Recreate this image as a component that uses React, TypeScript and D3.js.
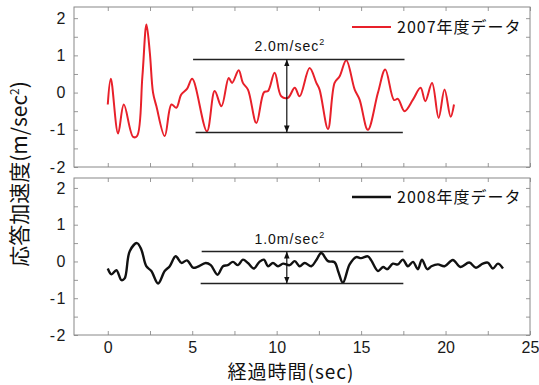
import React, { useEffect, useRef } from "react";
import * as d3 from "d3";

// 2007 response acceleration (red), time in sec / value in m/sec^2
const t2007 = [0, 0.18, 0.61, 0.95, 1.5, 1.73, 2.05, 2.29, 2.49, 2.68, 2.88, 3.37, 3.77, 4.06, 4.35, 4.69, 5.0, 5.87, 6.33, 6.73, 7.16, 7.36, 7.75, 8.0, 8.3, 8.8, 9.25, 9.49, 9.88, 10.27, 10.67, 11.07, 11.36, 11.95, 12.35, 12.54, 13.04, 13.43, 13.73, 14.12, 14.62, 14.91, 15.4, 16.0, 16.43, 16.95, 17.18, 17.57, 18.07, 18.52, 18.8, 19.2, 19.59, 19.94, 20.3, 20.5];
const v2007 = [-0.32, 0.37, -1.1, -0.32, -1.19, -1.17, 0.44, 1.83, 1.07, 0, -0.37, -1.17, -0.32, -0.41, -0.05, 0.1, 0.37, -1.04, 0.04, -0.37, 0.39, 0.26, 0.6, 0.26, 0.08, -0.82, 0.01, 0.04, 0.53, -0.1, -0.14, 0.13, -0.1, 0.66, 0.26, 0.08, -0.98, 0.26, 0.44, 0.87, 0.08, -0.19, -1.0, 0, 0.62, -0.2, -0.17, -0.5, -0.19, 0.13, -0.23, 0.26, -0.68, 0.08, -0.65, -0.32];

// 2008 response acceleration (black)
const t2008 = [0, 0.22, 0.51, 0.81, 1.0, 1.3, 1.73, 1.99, 2.28, 2.58, 2.98, 3.37, 3.67, 4.02, 4.36, 4.69, 5.05, 5.3, 5.8, 6.1, 6.5, 6.82, 7.1, 7.41, 7.71, 8.0, 8.3, 8.65, 8.98, 9.25, 9.49, 9.78, 10.08, 10.38, 10.77, 11.07, 11.36, 11.66, 12.05, 12.35, 12.64, 13.04, 13.43, 13.65, 13.92, 14.32, 14.71, 15.0, 15.4, 15.6, 16.0, 16.3, 16.55, 16.88, 17.18, 17.47, 17.77, 18.07, 18.36, 18.6, 18.92, 19.16, 19.55, 19.94, 20.43, 20.88, 21.4, 21.8, 22.2, 22.5, 22.8, 23.1, 23.4];
const v2008 = [-0.19, -0.35, -0.24, -0.51, -0.46, 0.28, 0.5, 0.32, -0.13, -0.26, -0.6, -0.26, -0.13, 0.14, -0.04, 0.03, -0.17, -0.15, -0.04, -0.1, -0.36, -0.13, -0.1, -0.01, -0.1, 0.05, -0.04, -0.19, -0.01, 0.05, -0.13, -0.04, -0.13, -0.06, -0.1, 0.01, -0.13, -0.04, -0.13, 0.04, 0.23, 0.01, -0.02, -0.28, -0.58, -0.08, 0.12, 0.09, 0.14, 0.03, -0.26, -0.15, -0.21, -0.06, -0.08, 0.05, -0.13, -0.01, -0.21, 0.05, -0.21, -0.13, -0.08, -0.13, 0.04, -0.15, -0.03, -0.17, -0.06, -0.03, -0.19, -0.06, -0.19];

// range annotations: [x start upper, x end upper, x start lower, x end lower, upper, lower, arrow x]
const band2007 = [5.05, 17.57, 5.2, 17.47, 0.89, -1.07, 10.6];
const band2008 = [5.56, 17.5, 5.5, 17.5, 0.27, -0.6, 10.6];

const xTicks = [0, 2.5, 5, 7.5, 10, 12.5, 15, 17.5, 20, 22.5, 25];
const yTicks = [-2, -1.5, -1, -0.5, 0, 0.5, 1, 1.5, 2];
const legend2007 = "2007年度データ";
const legend2008 = "2008年度データ";

export default function App() {
  const ref = useRef<SVGSVGElement>(null);

  useEffect(() => {
    const svg = d3.select(ref.current);
    svg.selectAll("*").remove();
    const W = 539, H = 385;
    const left = 74, right = 530;
    const jp = "'Noto Sans CJK JP', sans-serif";
    const num = "'Liberation Sans', Arial, sans-serif";

    const x = d3.scaleLinear().domain([-2, 25]).range([left, right]);

    const defs = svg.append("defs");
    ["start", "end"].forEach((k) => {
      defs.append("marker")
        .attr("id", "arr-" + k)
        .attr("viewBox", "0 0 10 10")
        .attr("refX", k === "end" ? 10 : 0)
        .attr("refY", 5)
        .attr("markerWidth", 7)
        .attr("markerHeight", 7)
        .attr("markerUnits", "userSpaceOnUse")
        .attr("orient", "auto")
        .append("path")
        .attr("d", k === "end" ? "M0,1 L10,5 L0,9 Z" : "M10,1 L0,5 L10,9 Z")
        .attr("fill", "#111");
    });

    const panels = [
      { top: 7, bottom: 167, max: 2.3, t: t2007, v: v2007, color: "#e8202a", width: 2, band: band2007, legend: legend2007, label: "2.0m/sec", ly: 27, showX: false },
      { top: 178, bottom: 335, max: 2.27, t: t2008, v: v2008, color: "#111", width: 2.4, band: band2008, legend: legend2008, label: "1.0m/sec", ly: 197, showX: true },
    ];

    panels.forEach((p) => {
      const y = d3.scaleLinear().domain([-2, p.max]).range([p.bottom, p.top]);
      const g = svg.append("g");

      // y axis left
      const ay = g.append("g")
        .attr("transform", `translate(${left},0)`)
        .call(d3.axisLeft(y).tickValues(yTicks).tickSize(-4).tickPadding(7)
          .tickFormat((d: any) => (Number.isInteger(d) ? String(d).replace("−", "-") : "")));
      ay.select(".domain").remove();
      ay.selectAll("line").attr("stroke", "#999");
      ay.selectAll("text").attr("font-family", num).attr("font-size", 16)
        .attr("letter-spacing", 1.5).attr("fill", "#1a1a1a");

      // right ticks
      const ar = g.append("g")
        .attr("transform", `translate(${right},0)`)
        .call(d3.axisRight(y).tickValues(yTicks).tickSize(-4).tickFormat(() => ""));
      ar.select(".domain").remove();
      ar.selectAll("line").attr("stroke", "#999");

      // top ticks
      const at = g.append("g")
        .attr("transform", `translate(0,${p.top})`)
        .call(d3.axisTop(x).tickValues(xTicks).tickSize(-4).tickFormat(() => ""));
      at.select(".domain").remove();
      at.selectAll("line").attr("stroke", "#999");

      // bottom ticks
      const ab = g.append("g")
        .attr("transform", `translate(0,${p.bottom})`)
        .call(d3.axisBottom(x).tickValues(xTicks).tickSize(-4).tickPadding(7)
          .tickFormat((d: any) => (p.showX && Number.isInteger(d) ? String(d) : "")));
      ab.select(".domain").remove();
      ab.selectAll("line").attr("stroke", "#999");
      ab.selectAll("text").attr("font-family", num).attr("font-size", 16).attr("fill", "#1a1a1a");

      // frame
      g.append("rect")
        .attr("x", left).attr("y", p.top)
        .attr("width", right - left).attr("height", p.bottom - p.top)
        .attr("fill", "none").attr("stroke", "#888").attr("stroke-width", 1);

      // series
      const pts = p.t.map((t, i) => [t, p.v[i]] as [number, number]);
      const line = d3.line<[number, number]>()
        .x((d) => x(d[0])).y((d) => y(d[1]))
        .curve(d3.curveCatmullRom.alpha(0.5));
      g.append("path")
        .attr("d", line(pts))
        .attr("fill", "none")
        .attr("stroke", p.color)
        .attr("stroke-width", p.width)
        .attr("stroke-linejoin", "round");

      // range band
      const [xs1, xe1, xs2, xe2, up, lo, ax] = p.band;
      g.append("line").attr("x1", x(xs1)).attr("x2", x(xe1)).attr("y1", y(up)).attr("y2", y(up))
        .attr("stroke", "#222").attr("stroke-width", 1.5);
      g.append("line").attr("x1", x(xs2)).attr("x2", x(xe2)).attr("y1", y(lo)).attr("y2", y(lo))
        .attr("stroke", "#222").attr("stroke-width", 1.5);
      g.append("line").attr("x1", x(ax)).attr("x2", x(ax)).attr("y1", y(up)).attr("y2", y(lo))
        .attr("stroke", "#111").attr("stroke-width", 1.2)
        .attr("marker-start", "url(#arr-start)").attr("marker-end", "url(#arr-end)");
      const tx = g.append("text")
        .attr("x", x(ax) + 3).attr("y", y(up) - 8)
        .attr("text-anchor", "middle")
        .attr("font-family", num).attr("font-size", 14).attr("letter-spacing", 1)
        .attr("fill", "#111");
      tx.append("tspan").text(p.label);
      tx.append("tspan").attr("dy", -6).attr("font-size", 9).text("2");

      // legend
      g.append("line").attr("x1", 352).attr("x2", 391).attr("y1", p.ly).attr("y2", p.ly)
        .attr("stroke", p.color).attr("stroke-width", p.width);
      g.append("text").attr("x", 397).attr("y", p.ly + 6)
        .attr("font-family", jp).attr("font-size", 16).attr("letter-spacing", 1)
        .attr("fill", "#111")
        .text(p.legend);
    });

    // axis titles
    svg.append("text")
      .attr("x", 291).attr("y", 379)
      .attr("text-anchor", "middle")
      .attr("font-family", jp).attr("font-size", 19).attr("letter-spacing", 1).attr("fill", "#111")
      .text("経過時間(sec)");

    const yl = svg.append("text")
      .attr("transform", "translate(27,174) rotate(-90)")
      .attr("text-anchor", "middle")
      .attr("font-family", jp).attr("font-size", 21).attr("fill", "#111");
    yl.append("tspan").text("応答加速度(m/sec");
    yl.append("tspan").attr("dy", -8).attr("font-size", 12).text("2");
    yl.append("tspan").attr("dy", 8).text(")");

    svg.attr("width", W).attr("height", H);
  }, []);

  return (
    <div style={{ position: "absolute", left: 0, top: 0, background: "#fff" }}>
      <svg ref={ref} width={539} height={385} style={{ display: "block" }} />
    </div>
  );
}
